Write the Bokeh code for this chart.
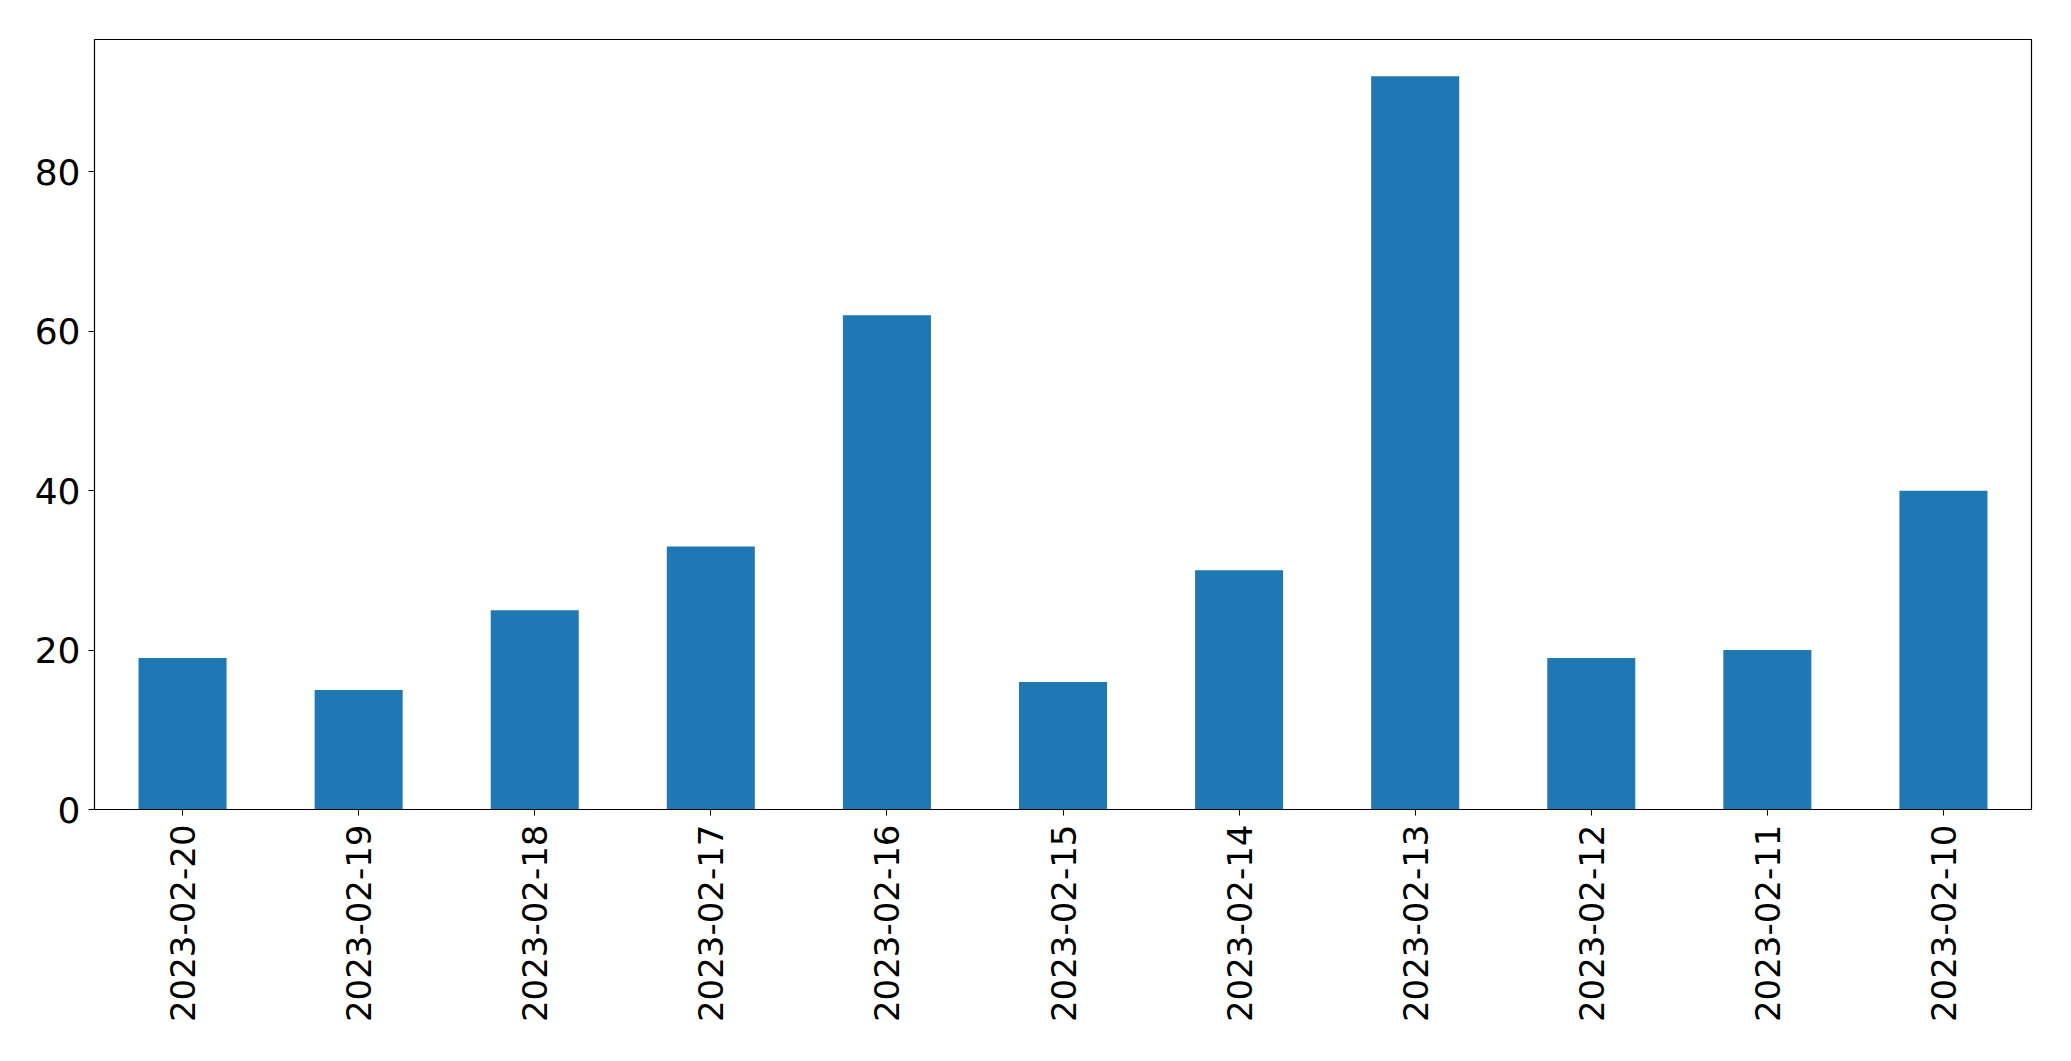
import math
from bokeh.plotting import figure
from bokeh.models import Range1d, FactorRange, FixedTicker
from bokeh.embed import file_html
from bokeh.resources import INLINE

dates = ["2023-02-20", "2023-02-19", "2023-02-18", "2023-02-17", "2023-02-16",
         "2023-02-15", "2023-02-14", "2023-02-13", "2023-02-12", "2023-02-11", "2023-02-10"]
counts = [19, 15, 25, 33, 62, 16, 30, 92, 19, 20, 40]
y_ticks = [0, 20, 40, 60, 80]

W, H = 2050, 1045
p = figure(x_range=FactorRange(*dates, range_padding=0), y_range=Range1d(0, 96.6),
           width=W, height=H, output_backend="svg", toolbar_location=None,
           min_border_left=94, min_border_top=39, min_border_right=W - 2031,
           min_border_bottom=H - 809)
p.x_range.factor_padding = 0
p.vbar(x=dates, top=counts, width=0.5, color="#1f77b4", line_color=None)

p.grid.visible = False
p.outline_line_color = "black"
p.outline_line_width = 1.2
p.background_fill_color = "white"
p.border_fill_color = "white"

for ax in (p.xaxis[0], p.yaxis[0]):
    ax.axis_line_color = "black"
    ax.major_tick_line_color = "black"
    ax.major_tick_out = 6
    ax.major_tick_in = 0
    ax.minor_tick_line_color = None
    ax.major_label_text_font = "DejaVu Sans"
    ax.major_label_text_font_size = "34px"
    ax.major_label_text_color = "black"

p.yaxis[0].ticker = FixedTicker(ticks=y_ticks)
p.yaxis[0].major_label_standoff = 8
p.yaxis[0].major_label_text_font_size = "36px"
p.xaxis[0].major_label_orientation = math.pi / 2
p.xaxis[0].major_label_standoff = 9

open("out.html", "w").write(file_html(p, INLINE))
